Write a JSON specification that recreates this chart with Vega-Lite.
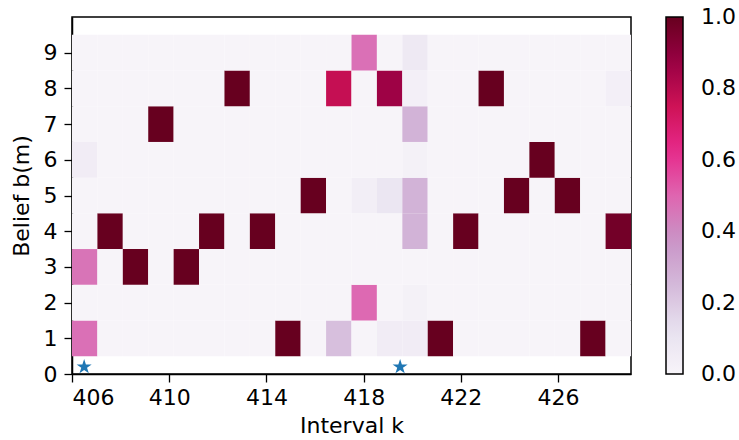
{
  "$schema": "https://vega.github.io/schema/vega-lite/v6.json",
  "width": 559,
  "height": 357,
  "autosize": {"type": "none"},
  "padding": {"left": 72, "top": 17, "right": 108, "bottom": 66},
  "background": "white",
  "config": {
    "font": "DejaVu Sans",
    "view": {"stroke": "black", "strokeWidth": 1.5},
    "axis": {
      "labelFont": "DejaVu Sans", "labelFontSize": 22, "labelColor": "black",
      "titleFont": "DejaVu Sans", "titleFontSize": 22, "titleColor": "black", "titleFontWeight": "normal",
      "tickColor": "black", "tickSize": 8, "tickWidth": 1.3,
      "domainColor": "black", "domainWidth": 1.5, "grid": false
    },
    "legend": {
      "labelFont": "DejaVu Sans", "labelFontSize": 22, "labelColor": "black"
    }
  },
  "datasets": {
    "belief": [
      {"c":0,"m":1,"p":0.47},{"c":0,"m":2,"p":0},{"c":0,"m":3,"p":0.46},{"c":0,"m":4,"p":0},{"c":0,"m":5,"p":0},{"c":0,"m":6,"p":0.05},{"c":0,"m":7,"p":0},{"c":0,"m":8,"p":0},{"c":0,"m":9,"p":0},
      {"c":1,"m":1,"p":0},{"c":1,"m":2,"p":0},{"c":1,"m":3,"p":0},{"c":1,"m":4,"p":1},{"c":1,"m":5,"p":0},{"c":1,"m":6,"p":0},{"c":1,"m":7,"p":0},{"c":1,"m":8,"p":0},{"c":1,"m":9,"p":0},
      {"c":2,"m":1,"p":0},{"c":2,"m":2,"p":0},{"c":2,"m":3,"p":1},{"c":2,"m":4,"p":0},{"c":2,"m":5,"p":0},{"c":2,"m":6,"p":0},{"c":2,"m":7,"p":0},{"c":2,"m":8,"p":0},{"c":2,"m":9,"p":0},
      {"c":3,"m":1,"p":0},{"c":3,"m":2,"p":0},{"c":3,"m":3,"p":0},{"c":3,"m":4,"p":0},{"c":3,"m":5,"p":0},{"c":3,"m":6,"p":0},{"c":3,"m":7,"p":1},{"c":3,"m":8,"p":0},{"c":3,"m":9,"p":0},
      {"c":4,"m":1,"p":0},{"c":4,"m":2,"p":0},{"c":4,"m":3,"p":1},{"c":4,"m":4,"p":0},{"c":4,"m":5,"p":0},{"c":4,"m":6,"p":0},{"c":4,"m":7,"p":0},{"c":4,"m":8,"p":0},{"c":4,"m":9,"p":0},
      {"c":5,"m":1,"p":0},{"c":5,"m":2,"p":0},{"c":5,"m":3,"p":0},{"c":5,"m":4,"p":1},{"c":5,"m":5,"p":0},{"c":5,"m":6,"p":0},{"c":5,"m":7,"p":0},{"c":5,"m":8,"p":0},{"c":5,"m":9,"p":0},
      {"c":6,"m":1,"p":0},{"c":6,"m":2,"p":0},{"c":6,"m":3,"p":0},{"c":6,"m":4,"p":0},{"c":6,"m":5,"p":0},{"c":6,"m":6,"p":0},{"c":6,"m":7,"p":0},{"c":6,"m":8,"p":1},{"c":6,"m":9,"p":0},
      {"c":7,"m":1,"p":0},{"c":7,"m":2,"p":0},{"c":7,"m":3,"p":0},{"c":7,"m":4,"p":1},{"c":7,"m":5,"p":0},{"c":7,"m":6,"p":0},{"c":7,"m":7,"p":0},{"c":7,"m":8,"p":0},{"c":7,"m":9,"p":0},
      {"c":8,"m":1,"p":1},{"c":8,"m":2,"p":0},{"c":8,"m":3,"p":0},{"c":8,"m":4,"p":0},{"c":8,"m":5,"p":0},{"c":8,"m":6,"p":0},{"c":8,"m":7,"p":0},{"c":8,"m":8,"p":0},{"c":8,"m":9,"p":0},
      {"c":9,"m":1,"p":0},{"c":9,"m":2,"p":0},{"c":9,"m":3,"p":0},{"c":9,"m":4,"p":0},{"c":9,"m":5,"p":1},{"c":9,"m":6,"p":0},{"c":9,"m":7,"p":0},{"c":9,"m":8,"p":0},{"c":9,"m":9,"p":0},
      {"c":10,"m":1,"p":0.23},{"c":10,"m":2,"p":0},{"c":10,"m":3,"p":0},{"c":10,"m":4,"p":0},{"c":10,"m":5,"p":0},{"c":10,"m":6,"p":0},{"c":10,"m":7,"p":0},{"c":10,"m":8,"p":0.77},{"c":10,"m":9,"p":0},
      {"c":11,"m":1,"p":0},{"c":11,"m":2,"p":0.49},{"c":11,"m":3,"p":0},{"c":11,"m":4,"p":0},{"c":11,"m":5,"p":0.04},{"c":11,"m":6,"p":0},{"c":11,"m":7,"p":0},{"c":11,"m":8,"p":0},{"c":11,"m":9,"p":0.47},
      {"c":12,"m":1,"p":0.05},{"c":12,"m":2,"p":0},{"c":12,"m":3,"p":0},{"c":12,"m":4,"p":0},{"c":12,"m":5,"p":0.09},{"c":12,"m":6,"p":0},{"c":12,"m":7,"p":0},{"c":12,"m":8,"p":0.86},{"c":12,"m":9,"p":0},
      {"c":13,"m":1,"p":0.05},{"c":13,"m":2,"p":0.02},{"c":13,"m":3,"p":0},{"c":13,"m":4,"p":0.27},{"c":13,"m":5,"p":0.27},{"c":13,"m":6,"p":0.02},{"c":13,"m":7,"p":0.27},{"c":13,"m":8,"p":0.03},{"c":13,"m":9,"p":0.07},
      {"c":14,"m":1,"p":1},{"c":14,"m":2,"p":0},{"c":14,"m":3,"p":0},{"c":14,"m":4,"p":0},{"c":14,"m":5,"p":0},{"c":14,"m":6,"p":0},{"c":14,"m":7,"p":0},{"c":14,"m":8,"p":0},{"c":14,"m":9,"p":0},
      {"c":15,"m":1,"p":0},{"c":15,"m":2,"p":0},{"c":15,"m":3,"p":0},{"c":15,"m":4,"p":1},{"c":15,"m":5,"p":0},{"c":15,"m":6,"p":0},{"c":15,"m":7,"p":0},{"c":15,"m":8,"p":0},{"c":15,"m":9,"p":0},
      {"c":16,"m":1,"p":0},{"c":16,"m":2,"p":0},{"c":16,"m":3,"p":0},{"c":16,"m":4,"p":0},{"c":16,"m":5,"p":0},{"c":16,"m":6,"p":0},{"c":16,"m":7,"p":0},{"c":16,"m":8,"p":1},{"c":16,"m":9,"p":0},
      {"c":17,"m":1,"p":0},{"c":17,"m":2,"p":0},{"c":17,"m":3,"p":0},{"c":17,"m":4,"p":0},{"c":17,"m":5,"p":1},{"c":17,"m":6,"p":0},{"c":17,"m":7,"p":0},{"c":17,"m":8,"p":0},{"c":17,"m":9,"p":0},
      {"c":18,"m":1,"p":0},{"c":18,"m":2,"p":0},{"c":18,"m":3,"p":0},{"c":18,"m":4,"p":0},{"c":18,"m":5,"p":0},{"c":18,"m":6,"p":1},{"c":18,"m":7,"p":0},{"c":18,"m":8,"p":0},{"c":18,"m":9,"p":0},
      {"c":19,"m":1,"p":0},{"c":19,"m":2,"p":0},{"c":19,"m":3,"p":0},{"c":19,"m":4,"p":0},{"c":19,"m":5,"p":1},{"c":19,"m":6,"p":0},{"c":19,"m":7,"p":0},{"c":19,"m":8,"p":0},{"c":19,"m":9,"p":0},
      {"c":20,"m":1,"p":1},{"c":20,"m":2,"p":0},{"c":20,"m":3,"p":0},{"c":20,"m":4,"p":0},{"c":20,"m":5,"p":0},{"c":20,"m":6,"p":0},{"c":20,"m":7,"p":0},{"c":20,"m":8,"p":0},{"c":20,"m":9,"p":0},
      {"c":21,"m":1,"p":0},{"c":21,"m":2,"p":0},{"c":21,"m":3,"p":0},{"c":21,"m":4,"p":0.97},{"c":21,"m":5,"p":0},{"c":21,"m":6,"p":0},{"c":21,"m":7,"p":0},{"c":21,"m":8,"p":0.03},{"c":21,"m":9,"p":0}
    ],
    "stars": [
      {"k": 406.5, "b": 0.2},
      {"k": 419.5, "b": 0.2}
    ]
  },
  "layer": [
    {
      "data": {"name": "belief"},
      "mark": {"type": "rect"},
      "encoding": {
        "x": {"field": "c", "type": "ordinal", "axis": null,
              "scale": {"domain": [0,1,2,3,4,5,6,7,8,9,10,11,12,13,14,15,16,17,18,19,20,21], "paddingInner": 0, "paddingOuter": 0}},
        "y": {"field": "m", "type": "ordinal", "axis": null,
              "scale": {"domain": [9,8,7,6,5,4,3,2,1], "paddingInner": 0, "paddingOuter": 0.5}},
        "color": {"field": "p", "type": "quantitative",
                  "scale": {"type": "linear", "domain": [0, 0.125, 0.25, 0.375, 0.5, 0.625, 0.75, 0.875, 1],
                            "range": ["#f7f4f9","#e7e1ef","#d4b9da","#c994c7","#df65b0","#e7298a","#ce1256","#980043","#67001f"],
                            "interpolate": "rgb"},
                  "legend": {
                    "title": null, "orient": "none", "legendX": 594, "legendY": 0,
                    "direction": "vertical", "gradientLength": 357, "gradientThickness": 17,
                    "gradientStrokeColor": "black", "gradientStrokeWidth": 1.5,
                    "values": [0, 0.2, 0.4, 0.6, 0.8, 1], "format": ".1f",
                    "labelOffset": 18, "labelOverlap": false,
                    "padding": 0,
                    "encode": {"labels": {"update": {"baseline": {"value": "middle"}}}}
                  }}
      }
    },
    {
      "data": {"name": "stars"},
      "mark": {"type": "point", "shape": "M0,-1L0.2245,-0.309L0.951,-0.309L0.3633,0.118L0.5878,0.809L0,0.382L-0.5878,0.809L-0.3633,0.118L-0.951,-0.309L-0.2245,-0.309Z", "filled": true, "color": "#1f77b4", "size": 250, "opacity": 1},
      "encoding": {
        "x": {"field": "k", "type": "quantitative",
              "scale": {"domain": [406, 429], "nice": false, "zero": false},
              "axis": {"orient": "bottom", "title": "Interval k", "values": [406, 410, 414, 418, 422, 426], "format": "d", "labelPadding": 5, "titlePadding": 7}},
        "y": {"field": "b", "type": "quantitative",
              "scale": {"domain": [0, 10], "nice": false, "zero": true},
              "axis": {"orient": "left", "title": "Belief b(m)", "values": [0,1,2,3,4,5,6,7,8,9], "format": "d", "labelPadding": 7, "titlePadding": 10}}
      }
    }
  ],
  "resolve": {"scale": {"x": "independent", "y": "independent"}}
}
